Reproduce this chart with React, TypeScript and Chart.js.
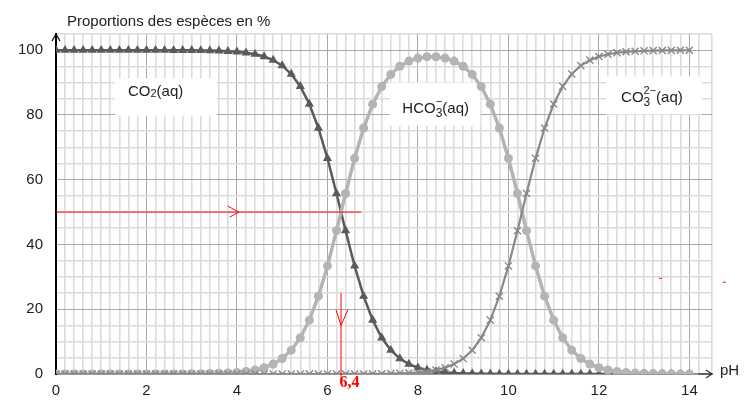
import React, { useEffect, useRef } from 'react';
import { Chart, registerables } from 'chart.js';
Chart.register(...registerables);

const TITLE = 'Proportions des espèces en %';
const X_LABEL = 'pH';

const PH = [
  0, 0.2, 0.4, 0.6, 0.8, 1, 1.2, 1.4, 1.6, 1.8,
  2, 2.2, 2.4, 2.6, 2.8, 3, 3.2, 3.4, 3.6, 3.8,
  4, 4.2, 4.4, 4.6, 4.8, 5, 5.2, 5.4, 5.6, 5.8,
  6, 6.2, 6.4, 6.6, 6.8, 7, 7.2, 7.4, 7.6, 7.8,
  8, 8.2, 8.4, 8.6, 8.8, 9, 9.2, 9.4, 9.6, 9.8,
  10, 10.2, 10.4, 10.6, 10.8, 11, 11.2, 11.4, 11.6, 11.8,
  12, 12.2, 12.4, 12.6, 12.8, 13, 13.2, 13.4, 13.6, 13.8,
  14,
];

const CO2 = [
  100, 100, 100, 100, 100, 100, 100, 100, 100, 100,
  99.99, 99.99, 99.99, 99.98, 99.97, 99.95, 99.92, 99.87, 99.8, 99.68,
  99.5, 99.21, 98.76, 98.04, 96.93, 95.23, 92.64, 88.82, 83.37, 75.97,
  66.61, 55.73, 44.27, 33.39, 24.03, 16.63, 11.17, 7.35, 4.76, 3.06,
  1.95, 1.23, 0.78, 0.49, 0.31, 0.19, 0.12, 0.07, 0.04, 0.02,
  0.01, 0.01, 0, 0, 0, 0, 0, 0, 0, 0,
  0, 0, 0, 0, 0, 0, 0, 0, 0, 0,
  0,
];

const HCO3 = [
  0, 0, 0, 0, 0, 0, 0, 0, 0, 0,
  0.01, 0.01, 0.01, 0.02, 0.03, 0.05, 0.08, 0.13, 0.2, 0.32,
  0.5, 0.79, 1.24, 1.96, 3.07, 4.77, 7.36, 11.18, 16.63, 24.03,
  33.39, 44.27, 55.73, 66.61, 75.96, 83.33, 88.76, 92.53, 95.05, 96.64,
  97.56, 97.99, 97.99, 97.56, 96.64, 95.05, 92.53, 88.76, 83.33, 75.96,
  66.61, 55.73, 44.27, 33.39, 24.03, 16.63, 11.18, 7.36, 4.77, 3.07,
  1.96, 1.24, 0.79, 0.5, 0.32, 0.2, 0.13, 0.08, 0.05, 0.03,
  0.02,
];

const CO3 = [
  0, 0, 0, 0, 0, 0, 0, 0, 0, 0,
  0, 0, 0, 0, 0, 0, 0, 0, 0, 0,
  0, 0, 0, 0, 0, 0, 0, 0, 0, 0,
  0, 0, 0.01, 0.01, 0.02, 0.04, 0.07, 0.12, 0.19, 0.31,
  0.49, 0.78, 1.23, 1.95, 3.06, 4.76, 7.35, 11.17, 16.63, 24.02,
  33.38, 44.26, 55.73, 66.61, 75.97, 83.37, 88.82, 92.64, 95.23, 96.93,
  98.04, 98.76, 99.21, 99.5, 99.68, 99.8, 99.87, 99.92, 99.95, 99.97,
  99.98,
];

const X_TICKS = [0, 2, 4, 6, 8, 10, 12, 14];
const Y_TICKS = [0, 20, 40, 60, 80, 100];
const PKA_LABEL = '6,4';

const FONT = "'Liberation Sans', Arial, sans-serif";

const isMult = (v: number, m: number) => Math.abs(v / m - Math.round(v / m)) < 1e-6;

type Part = { t: string; size: number; dy?: number; stackWith?: { t: string; size: number; dy: number } };

function drawFormula(ctx: CanvasRenderingContext2D, x: number, y: number, parts: Part[]) {
  let cx = x;
  ctx.textBaseline = 'alphabetic';
  ctx.textAlign = 'left';
  for (const p of parts) {
    ctx.font = `${p.size}px ${FONT}`;
    ctx.fillText(p.t, cx, y + (p.dy || 0));
    let w = ctx.measureText(p.t).width;
    if (p.stackWith) {
      ctx.font = `${p.stackWith.size}px ${FONT}`;
      ctx.fillText(p.stackWith.t, cx, y + p.stackWith.dy);
      w = Math.max(w, ctx.measureText(p.stackWith.t).width);
    }
    cx += w;
  }
}

const decor = {
  id: 'decor',
  beforeDatasetsDraw(chart: any) {
    const { ctx, scales } = chart;
    const X = (v: number) => scales.x.getPixelForValue(v);
    const Y = (v: number) => scales.y.getPixelForValue(v);
    ctx.save();
    ctx.fillStyle = '#ffffff';
    const boxes = [
      [1.3, 91.3, 3.55, 79.8],
      [7.37, 90.0, 9.38, 76.7],
      [12.155, 91.9, 14.27, 80.1],
    ];
    for (const [x1, y1, x2, y2] of boxes) {
      ctx.fillRect(X(x1), Y(y1), X(x2) - X(x1), Y(y2) - Y(y1));
    }
    ctx.fillStyle = '#222';
    drawFormula(ctx, X(1.59), Y(85.7), [
      { t: 'CO', size: 15 },
      { t: '2', size: 11, dy: 1 },
      { t: '(aq)', size: 15 },
    ]);
    drawFormula(ctx, X(7.655), Y(80.7), [
      { t: 'HCO', size: 15 },
      { t: '3', size: 12, dy: 4, stackWith: { t: '−', size: 11, dy: -8 } },
      { t: '(aq)', size: 15 },
    ]);
    drawFormula(ctx, X(12.49), Y(84.1), [
      { t: 'CO', size: 15 },
      { t: '3', size: 12, dy: 4, stackWith: { t: '2−', size: 11, dy: -8 } },
      { t: '(aq)', size: 15 },
    ]);
    ctx.restore();
  },
  afterDatasetsDraw(chart: any) {
    const { ctx, scales, chartArea } = chart;
    const X = (v: number) => scales.x.getPixelForValue(v);
    const Y = (v: number) => scales.y.getPixelForValue(v);
    ctx.save();
    ctx.fillStyle = '#222';
    ctx.font = `15px ${FONT}`;
    ctx.textAlign = 'left';
    ctx.textBaseline = 'alphabetic';
    ctx.fillText(TITLE, chartArea.left + 11, chartArea.top - 8);
    ctx.textBaseline = 'middle';
    ctx.fillText(X_LABEL, chartArea.right + 8, chartArea.bottom - 3);

    ctx.strokeStyle = '#000';
    ctx.lineWidth = 1.2;
    ctx.beginPath();
    ctx.moveTo(chartArea.left - 4, chartArea.top + 7);
    ctx.lineTo(chartArea.left, chartArea.top);
    ctx.lineTo(chartArea.left + 4, chartArea.top + 7);
    ctx.stroke();
    ctx.strokeStyle = '#333';
    ctx.beginPath();
    ctx.moveTo(X(14.2), chartArea.bottom);
    ctx.lineTo(chartArea.right, chartArea.bottom);
    ctx.moveTo(chartArea.right - 6, chartArea.bottom - 4);
    ctx.lineTo(chartArea.right, chartArea.bottom);
    ctx.lineTo(chartArea.right - 6, chartArea.bottom + 4);
    ctx.stroke();

    ctx.strokeStyle = '#ff0000';
    ctx.lineWidth = 1;
    ctx.beginPath();
    ctx.moveTo(X(0), Y(50));
    ctx.lineTo(X(6.75), Y(50));
    ctx.moveTo(X(4.04) - 11, Y(50) - 6);
    ctx.lineTo(X(4.04), Y(50));
    ctx.lineTo(X(4.04) - 9, Y(50) + 5);
    ctx.moveTo(X(6.3), Y(25));
    ctx.lineTo(X(6.3), chartArea.bottom + 6);
    ctx.moveTo(X(6.3) - 5, Y(19.75));
    ctx.lineTo(X(6.3), Y(15));
    ctx.lineTo(X(6.3) + 7, Y(19.9));
    ctx.stroke();
    ctx.fillStyle = '#ff0000';
    ctx.fillRect(X(13.35) - 1, Y(29.7), 3, 1);
    ctx.fillRect(X(14.76) - 1, Y(28.5), 3, 1);
    ctx.font = "bold 16px 'Liberation Serif', 'Times New Roman', serif";
    ctx.textAlign = 'center';
    ctx.textBaseline = 'middle';
    ctx.fillText(PKA_LABEL, X(6.49), chartArea.bottom + 9);
    ctx.restore();
  },
};

export default function App() {
  const ref = useRef<HTMLCanvasElement>(null);
  useEffect(() => {
    document.body.style.margin = '0';
    const toPts = (ys: number[]) => PH.map((x, i) => ({ x, y: ys[i] }));
    const chart = new Chart(ref.current as HTMLCanvasElement, {
      type: 'line',
      data: {
        datasets: [
          {
            label: 'CO2(aq)',
            data: toPts(CO2),
            borderColor: '#5a5a5a',
            backgroundColor: '#5a5a5a',
            borderWidth: 2.5,
            pointStyle: 'triangle',
            pointRadius: 5.3,
            pointBorderWidth: 0,
            order: 2,
          },
          {
            label: 'HCO3-(aq)',
            data: toPts(HCO3),
            borderColor: '#b4b4b4',
            backgroundColor: '#b4b4b4',
            borderWidth: 3.5,
            pointStyle: 'circle',
            pointRadius: 4.5,
            pointBorderWidth: 0,
            order: 1,
          },
          {
            label: 'CO3 2-(aq)',
            data: toPts(CO3),
            borderColor: '#888888',
            backgroundColor: '#888888',
            borderWidth: 2.2,
            pointStyle: 'crossRot',
            pointRadius: 5,
            pointBorderWidth: 1.4,
            order: 0,
          },
        ],
      },
      options: {
        animation: false,
        responsive: true,
        maintainAspectRatio: false,
        events: [],
        layout: { padding: { left: 0, top: 34, right: 34, bottom: 0 } },
        plugins: { legend: { display: false }, tooltip: { enabled: false }, title: { display: false } },
        elements: { line: { tension: 0 } },
        scales: {
          x: {
            type: 'linear',
            min: 0,
            max: 14.5,
            afterFit: (s: any) => { s.height = 31; },
            border: { display: true, color: '#8a8a8a', width: 1.5 },
            grid: {
              drawTicks: false,
              color: (c: any) => (X_TICKS.some((t) => Math.abs(t - c.tick.value) < 1e-6) ? '#a8a8a8' : '#dcdcdc'),
              lineWidth: (c: any) => (isMult(c.tick.value, 2) ? 1 : 1.6),
            },
            ticks: {
              stepSize: 0.2,
              autoSkip: false,
              maxRotation: 0,
              padding: 8,
              color: '#222',
              font: { family: FONT, size: 15 },
              callback: (v: any) => {
                const t = X_TICKS.find((k) => Math.abs(k - v) < 1e-6);
                return t === undefined ? '' : String(t);
              },
            },
          },
          y: {
            type: 'linear',
            min: 0,
            max: 105,
            afterFit: (s: any) => { s.width = 56; },
            border: { display: true, color: '#000', width: 2 },
            grid: {
              drawTicks: false,
              color: (c: any) => (isMult(c.tick.value, 20) ? '#a8a8a8' : '#dcdcdc'),
              lineWidth: (c: any) => (isMult(c.tick.value, 20) ? 1 : 1.6),
            },
            ticks: {
              stepSize: 5,
              autoSkip: false,
              padding: 13,
              color: '#222',
              font: { family: FONT, size: 15 },
              callback: (v: any) => {
                const t = Y_TICKS.find((k) => Math.abs(k - v) < 1e-6);
                return t === undefined ? '' : String(t);
              },
            },
          },
        },
      },
      plugins: [decor],
    } as any);
    return () => chart.destroy();
  }, []);
  return (
    <div style={{ width: 746, height: 405, position: 'relative' }}>
      <canvas ref={ref} />
    </div>
  );
}
